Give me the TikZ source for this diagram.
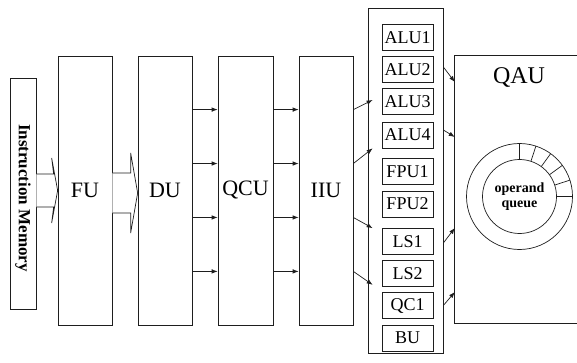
\documentclass[tikz,border=0pt]{standalone}
\usepackage{fontspec}
\setmainfont{Liberation Serif}
\usetikzlibrary{arrows.meta, calc}
\definecolor{inkline}{HTML}{1E1E1E}

\begin{document}
\begin{tikzpicture}[x=1pt, y=-1pt, >={Latex[length=6pt, width=4.5pt]},
  box/.style={draw=inkline, line width=0.7pt, inner sep=0pt},
  stage/.style={box, minimum width=54pt, minimum height=269pt,
    font=\fontsize{22}{24}\selectfont},
  unit/.style={box, minimum width=51pt, minimum height=26pt,
    font=\fontsize{18}{20}\selectfont},
  link/.style={inkline, line width=0.7pt, ->},
  fatarrow/.style={inkline, line width=0.7pt, fill=white}]

% Background
\fill[white] (0,0) rectangle (577,363);
\useasboundingbox (0,0) rectangle (577,363);

% ================================================================
% Front end: memory and pipeline stages
% ================================================================
\node[box, minimum width=26pt, minimum height=231pt] (im) at (23,193.5) {};
\node[rotate=-90, font=\fontsize{17}{19}\selectfont\bfseries] (imtext)
  at (23,198) {Instruction Memory};

\node[stage] (fu)  at (85,190.5)  {FU};
\node[stage] (du)  at (165,190.5) {DU};
\node[stage, minimum width=55pt] (qcu) at (245.5,190.5) {QCU};
\node[stage] (iiu) at (326,190.5) {IIU};

% Wide arrow: memory -> FU
\draw[fatarrow]
  ($(im.east |- fu.west)+(0,-16.5)$) -- ($(fu.west)+(-4,-16.5)$)
  -- ($(fu.west)+(-6,-32.5)$) -- (fu.west) -- ($(fu.west)+(-6,32.5)$)
  -- ($(fu.west)+(-4,16.5)$) -- ($(im.east |- fu.west)+(0,16.5)$);

% Wide arrow: FU -> DU
\coordinate (dutip) at ($(du.west)+(0,2.5)$);
\draw[fatarrow]
  ($(fu.east |- dutip)+(0,-20)$) -- ($(dutip)+(-7,-20)$)
  -- ($(dutip)+(-7,-40)$) -- (dutip) -- ($(dutip)+(-7,40)$)
  -- ($(dutip)+(-7,20)$) -- ($(fu.east |- dutip)+(0,20)$);

% DU -> QCU -> IIU
\foreach \f in {0.2,0.4,0.6,0.8}{
  \draw[link] ($(du.north east)!\f!(du.south east)$)
    -- ($(qcu.north west)!\f!(qcu.south west)$);
  \draw[link] ($(qcu.north east)!\f!(qcu.south east)$)
    -- ($(iiu.north west)!\f!(iiu.south west)$);
}

% ================================================================
% Execution units
% ================================================================
\node[box, minimum width=75pt, minimum height=345pt] (exu) at (405.5,180.5) {};

\foreach \name/\txt/\y in {alu1/ALU1/37.5, alu2/ALU2/69.5, alu3/ALU3/101.5,
    alu4/ALU4/135, fpu1/FPU1/171.5, fpu2/FPU2/204, ls1/LS1/241.5,
    ls2/LS2/273.5, qc1/QC1/305.5, bu/BU/338}
  \node[unit] (\name) at (407.5,\y) {\txt};

% IIU -> units
\draw[link] ($(iiu.north east)!0.2!(iiu.south east)$) -- ($(alu3.west)+(-9,-1.5)$);
\draw[link] ($(iiu.north east)!0.4!(iiu.south east)$) -- ($(alu4.south west)+(-9,0)$);
\draw[link] ($(iiu.north east)!0.6!(iiu.south east)$) -- ($(ls1.north west)+(-9,0)$);
\draw[link] ($(iiu.north east)!0.8!(iiu.south east)$) -- ($(ls2.south west)+(-9,-2)$);

% ================================================================
% QAU with operand queue
% ================================================================
\node[inner sep=0pt, minimum width=122pt, minimum height=267pt] (qau) at (516,189.5) {};
\draw[inkline, line width=0.7pt]
  (qau.north east) -- (qau.north west) -- (qau.south west) -- (qau.south east);
\node[font=\fontsize{24}{26}\selectfont] (qautext) at (519,77.5) {QAU};

% units -> QAU
\draw[link] ($(exu.east |- alu2)+(0,-2.5)$) -- ($(qau.west |- alu2)+(0,12.5)$);
\draw[link] ($(exu.east |- alu4)+(0,-5)$) -- ($(qau.west |- alu4)+(0,2)$);
\draw[link] ($(exu.east |- ls1)+(0,1.5)$) -- ($(qau.west |- ls1)+(0,-13.5)$);
\draw[link] (exu.east |- qc1) -- ($(qau.west |- qc1)+(0,-13.5)$);

% Ring buffer
\coordinate (oq) at (519.5,196.5);
\draw[inkline, line width=0.7pt] (oq) circle (53pt);
\draw[inkline, line width=0.7pt] (oq) circle (37pt);
\foreach \a in {0,18,...,90}
  \draw[inkline, line width=0.7pt] ($(oq)+(\a:37pt)$) -- ($(oq)+(\a:53pt)$);
\node[font=\fontsize{14}{15}\selectfont\bfseries, align=center] (oqtext)
  at (oq) {operand\\queue};

\end{tikzpicture}
\end{document}
